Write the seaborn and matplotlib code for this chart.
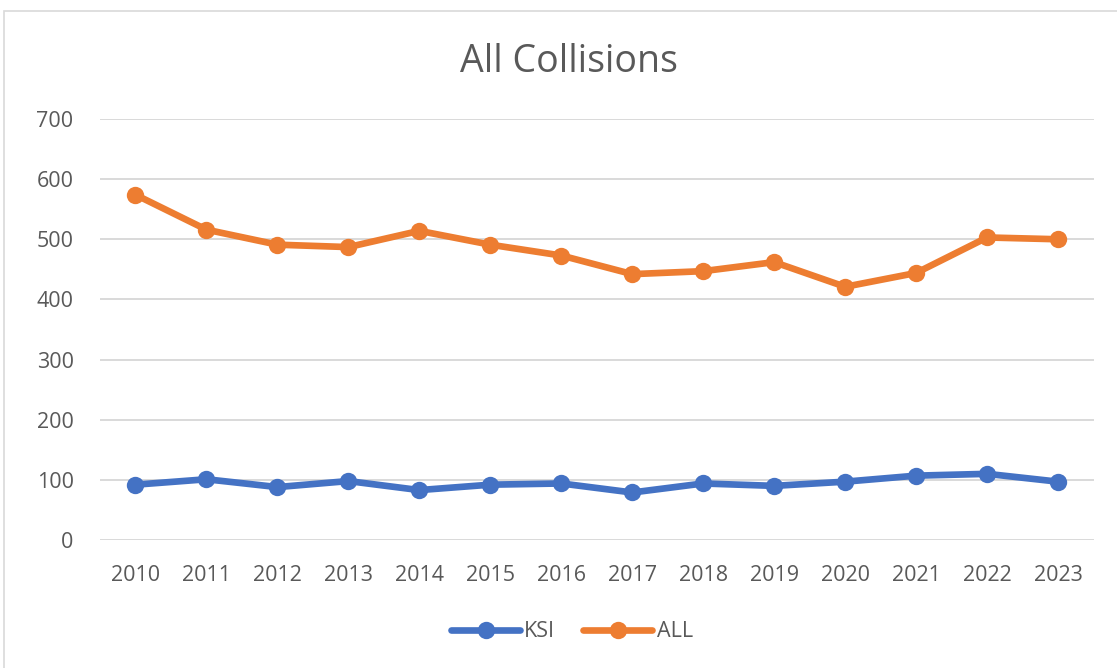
import seaborn as sns
import matplotlib.pyplot as plt
import matplotlib.patches as mpatches
import pandas as pd

# data
years = [2010, 2011, 2012, 2013, 2014, 2015, 2016,
         2017, 2018, 2019, 2020, 2021, 2022, 2023]
ksi = [92, 101, 88, 98, 83, 92, 94, 79, 94, 90, 97, 107, 110, 97]
all_collisions = [574, 516, 491, 487, 514, 491, 473,
                  442, 447, 462, 421, 444, 503, 500]

df = pd.DataFrame({
    "Year": [str(y) for y in years] * 2,
    "Count": ksi + all_collisions,
    "Series": ["KSI"] * len(years) + ["ALL"] * len(years),
})

sns.set_style("white")
plt.rcParams["font.family"] = ["Open Sans", "DejaVu Sans"]

fig = plt.figure(figsize=(11.17, 6.68), dpi=100)
ax = fig.add_axes([0.0895, 0.1916, 0.8895, 0.6303])

palette = {"KSI": "#4472C4", "ALL": "#ED7D31"}
sns.lineplot(data=df, x="Year", y="Count", hue="Series", palette=palette,
             marker="o", markersize=12.5, linewidth=4.8, markeredgewidth=0,
             sort=False, legend=True, ax=ax)

ax.set_ylim(0, 700)
ax.set_xlim(-0.5, len(years) - 0.5)
ax.set_yticks(range(0, 701, 100))
ax.yaxis.grid(True, color="#D9D9D9", linewidth=1.4)
ax.set_axisbelow(True)
for s in ax.spines.values():
    s.set_visible(False)
ax.tick_params(axis="both", length=0, labelsize=15.5, colors="#595959")
ax.tick_params(axis="x", pad=18)
ax.tick_params(axis="y", pad=19)
ax.set_xlabel("")
ax.set_ylabel("")

fig.text(0.509, 0.907, "All Collisions", ha="center", va="center",
         fontsize=27, color="#595959")

handles, labels = ax.get_legend_handles_labels()
ax.get_legend().remove()
fig.legend(handles, labels, loc="center", bbox_to_anchor=(0.512, 0.054),
           ncol=2, frameon=False, fontsize=15.5, labelcolor="#595959",
           handlelength=3.2, handletextpad=0.2, columnspacing=1.3)

# outer chart border
fig.patches.append(mpatches.Rectangle((0.004, -0.01), 1.0, 0.994,
                                      transform=fig.transFigure, fill=False,
                                      edgecolor="#D9D9D9", linewidth=1.2))

plt.savefig("out.png", dpi=100)
